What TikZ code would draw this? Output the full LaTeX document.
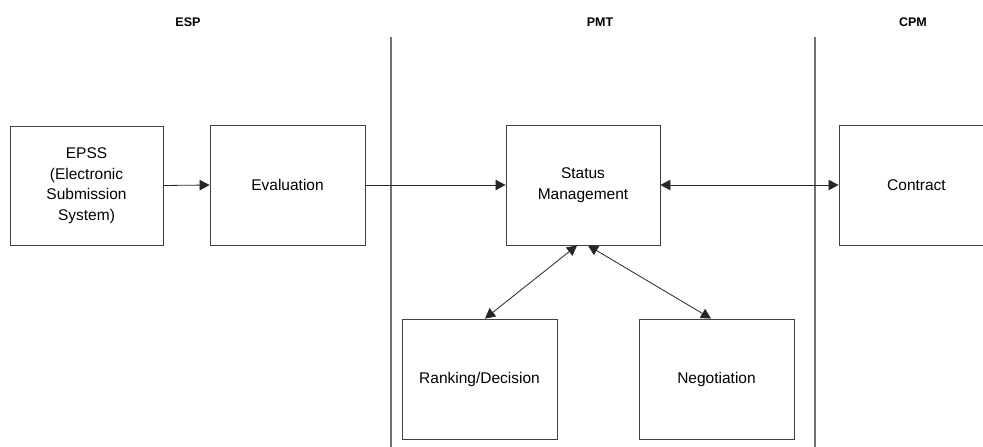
\documentclass[tikz,border=0pt]{standalone}
\usepackage{fontspec}
\setmainfont{Liberation Sans}
\usetikzlibrary{arrows.meta}
\begin{document}
\begin{tikzpicture}[x=1pt,y=-1pt,
  box/.style={draw=black!75,line width=0.9pt,rectangle,minimum width=155pt,minimum height=120pt,align=center,font=\fontsize{15.5}{20.5}\selectfont,inner sep=0pt},
  hdr/.style={font=\fontsize{12.5}{15}\selectfont\bfseries},
  sep/.style={draw=black!55,line width=1.2pt},
  conn/.style={draw=black!85,line width=0.8pt},
  tip/.style={-{Triangle[length=10pt,width=10.5pt]}},
  tips/.style={{Triangle[length=10pt,width=10.5pt]}-{Triangle[length=10pt,width=10.5pt]}}]
\useasboundingbox (0,0) rectangle (983,447);
\clip (0,0) rectangle (983,447);
\node[hdr] (esp) at (188,22) {ESP};
\node[hdr] (pmt) at (600,22) {PMT};
\node[hdr] (cpm) at (913,22) {CPM};
\coordinate (l1t) at (391,37);
\coordinate (l1b) at (391,450);
\coordinate (l2t) at (815,37);
\coordinate (l2b) at (815,450);
\draw[sep] (l1t) -- (l1b);
\draw[sep] (l2t) -- (l2b);
\node[box,minimum width=153pt,minimum height=119pt] (epss) at (86.5,185.5) {EPSS\\(Electronic\\Submission\\System)};
\node[box] (eval) at (287.5,185) {Evaluation};
\node[box,minimum width=154pt] (stat) at (583,185) {Status\\Management};
\node[box,minimum width=200pt,xshift=22.5pt] (contr) at (916.5,185) {};
\node[font=\fontsize{15.5}{20.5}\selectfont,inner sep=0pt] (contrlbl) at (916.5,185) {Contract};
\node[box] (rank) at (479.5,379) {Ranking/Decision};
\node[box] (nego) at (716.5,379) {Negotiation};
\draw[conn,tip] (epss.east) -- (eval.west);
\draw[conn,tip] (eval.east) -- (stat.west);
\draw[conn,tips] (stat.east) -- (contr.west);
\draw[conn,tips] ([xshift=-6pt]stat.south) -- ([xshift=5.5pt]rank.north);
\draw[conn,tips] ([xshift=5pt]stat.south) -- ([xshift=-5.5pt]nego.north);
\end{tikzpicture}
\end{document}
